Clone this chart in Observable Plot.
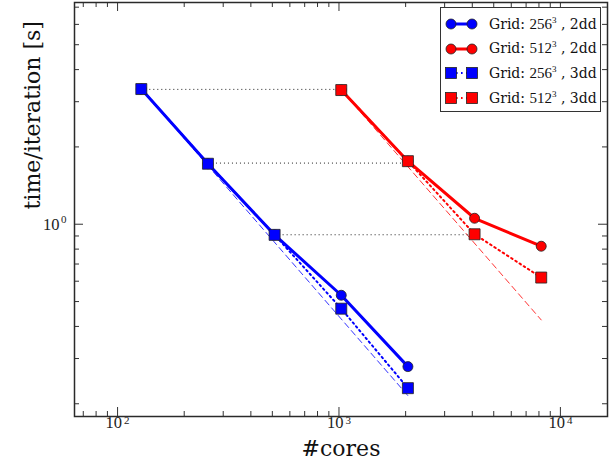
<!DOCTYPE html>
<html><head><meta charset="utf-8">
<script src="https://cdn.jsdelivr.net/npm/d3@7"></script>
<script src="https://cdn.jsdelivr.net/npm/@observablehq/plot@0.6"></script>
<style>
body{margin:0;background:#fff;}
#wrap{position:relative;width:616px;height:469px;font-family:"DejaVu Serif",serif;}
#legend{position:absolute;left:440px;top:7px;width:161px;height:105px;border:1.5px solid #333;background:#fff;box-sizing:border-box;}
.item{position:absolute;left:4px;height:20px;display:flex;align-items:center;font-size:14px;color:#111;white-space:nowrap;}
.item svg{margin-right:10px;}
.num{font-family:"Liberation Serif",serif;font-size:15px;}
sup{font-family:"Liberation Serif",serif;font-size:9px;vertical-align:6px;line-height:0;}
</style></head><body><div id="wrap"></div>
<script>
// ---- data ----
const cores256 = [128, 256, 512, 1024, 2048];
const time256_2dd = [3.36, 1.72, 0.909, 0.529, 0.279];
const time256_3dd = [3.36, 1.72, 0.909, 0.469, 0.230];
const cores512 = [1024, 2048, 4096, 8192];
const time512_2dd = [3.33, 1.76, 1.055, 0.821];
const time512_3dd = [3.33, 1.76, 0.914, 0.620];
const idealCores256 = [128, 2048];
const idealTime256 = [3.36, 0.215];
const idealCores512 = [1024, 8192];
const idealTime512 = [3.33, 0.424];
const refFrom = [128, 256, 512];
const refTo = [1024, 2048, 4096];
const refTime = [3.35, 1.73, 0.91];
const xMajor = [100, 1000, 10000];
const xExponents = ["2", "3", "4"];
const xMinor = [70, 80, 90, 200, 300, 400, 500, 600, 700, 800, 900, 2000, 3000, 4000, 5000, 6000, 7000, 8000, 9000];
const yMajor = [1];
const yExponents = ["0"];
const yMinor = [0.2, 0.3, 0.4, 0.5, 0.6, 0.7, 0.8, 0.9, 2, 3, 4, 5, 6, 7];
const seriesNames = ["256", "512", "256", "512"];
const seriesKinds = ["2dd", "2dd", "3dd", "3dd"];
const seriesColors = ["#0000ff", "#ff0000", "#0000ff", "#ff0000"];
const xLabel = "#cores";
const yLabel = "time/iteration [s]";

// ---- build ----
const W = 616, H = 469, mL = 74, mR = 9, mT = 2, mB = 53;
const pw = W - mL - mR, ph = H - mT - mB;
const rows = (xs, ys) => xs.map((x, i) => ({x, y: ys[i]}));
const refs = refFrom.map((f, i) => ({from: f, to: refTo[i], t: refTime[i]}));
const tickStroke = "#333";
const tickFont = '"Liberation Serif", serif';

const s256_2 = rows(cores256, time256_2dd), s512_2 = rows(cores512, time512_2dd);
const s256_3 = rows(cores256, time256_3dd), s512_3 = rows(cores512, time512_3dd);

const chart = Plot.plot({
  width: W, height: H, marginLeft: mL, marginRight: mR, marginTop: mT, marginBottom: mB,
  style: {fontFamily: '"DejaVu Serif", serif', fontSize: "13px", background: "white", color: "#222", overflow: "visible"},
  x: {type: "log", domain: [63.9, 16320], axis: null},
  y: {type: "log", domain: [0.1784, 7.3], axis: null},
  marks: [
    // inward ticks on all four sides
    Plot.tickX(xMinor, {x: d => d, insetTop: ph - 5, stroke: tickStroke}),
    Plot.tickX(xMajor, {x: d => d, insetTop: ph - 9, stroke: tickStroke}),
    Plot.tickX(xMinor, {x: d => d, insetBottom: ph - 5, stroke: tickStroke}),
    Plot.tickX(xMajor, {x: d => d, insetBottom: ph - 9, stroke: tickStroke}),
    Plot.tickY(yMinor, {y: d => d, insetRight: pw - 5, stroke: tickStroke}),
    Plot.tickY(yMajor, {y: d => d, insetRight: pw - 9, stroke: tickStroke}),
    Plot.tickY(yMinor, {y: d => d, insetLeft: pw - 5, stroke: tickStroke}),
    Plot.tickY(yMajor, {y: d => d, insetLeft: pw - 9, stroke: tickStroke}),
    // tick labels 10^n (base + raised exponent)
    Plot.text(xMajor, {x: d => d, frameAnchor: "bottom", text: () => "10", textAnchor: "end", dx: 4.5, dy: 11.5, fontSize: 16.5, fontFamily: tickFont, fill: "#222"}),
    Plot.text(xMajor, {x: d => d, frameAnchor: "bottom", text: (d, i) => xExponents[i], textAnchor: "start", dx: 6.5, dy: 7.5, fontSize: 11, fontFamily: tickFont, fill: "#222"}),
    Plot.text(yMajor, {y: d => d, frameAnchor: "left", text: () => "10", textAnchor: "end", dx: -15, dy: 0.5, fontSize: 16.5, fontFamily: tickFont, fill: "#222"}),
    Plot.text(yMajor, {y: d => d, frameAnchor: "left", text: (d, i) => yExponents[i], textAnchor: "start", dx: -13.5, dy: -5, fontSize: 11, fontFamily: tickFont, fill: "#222"}),
    Plot.frame({stroke: "#2a2a2a", strokeWidth: 1.5}),
    Plot.text([xLabel], {text: d => d, frameAnchor: "bottom", dy: 39, fontSize: 22, fill: "#111"}),
    Plot.text([yLabel], {text: d => d, frameAnchor: "left", dx: -42, rotate: -90, fontSize: 22, fill: "#111"}),
    // ideal scaling (dashed) and reference levels (dotted)
    Plot.line(rows(idealCores256, idealTime256), {x: "x", y: "y", stroke: "#3333ff", strokeWidth: 1, strokeDasharray: "6,4"}),
    Plot.line(rows(idealCores512, idealTime512), {x: "x", y: "y", stroke: "#ff3333", strokeWidth: 1, strokeDasharray: "6,4"}),
    Plot.link(refs, {x1: "from", x2: "to", y1: "t", y2: "t", stroke: "#222", strokeWidth: 1, strokeDasharray: "1,3"}),
    // 2dd series
    Plot.line(s256_2, {x: "x", y: "y", stroke: seriesColors[0], strokeWidth: 3}),
    Plot.dot(s256_2, {x: "x", y: "y", r: 5, fill: seriesColors[0], stroke: "#222", strokeWidth: 0.8}),
    Plot.line(s512_2, {x: "x", y: "y", stroke: seriesColors[1], strokeWidth: 3}),
    Plot.dot(s512_2, {x: "x", y: "y", r: 5, fill: seriesColors[1], stroke: "#222", strokeWidth: 0.8}),
    // 3dd series
    Plot.line(s256_3, {x: "x", y: "y", stroke: seriesColors[2], strokeWidth: 2, strokeDasharray: "1.6,3.4"}),
    Plot.dot(s256_3, {x: "x", y: "y", r: 6.2, symbol: "square", fill: seriesColors[2], stroke: "#222", strokeWidth: 0.8}),
    Plot.line(s512_3, {x: "x", y: "y", stroke: seriesColors[3], strokeWidth: 2, strokeDasharray: "1.6,3.4"}),
    Plot.dot(s512_3, {x: "x", y: "y", r: 6.2, symbol: "square", fill: seriesColors[3], stroke: "#222", strokeWidth: 0.8})
  ]
});
const wrap = document.getElementById("wrap");
wrap.appendChild(chart);

// legend
const legend = document.createElement("div");
legend.id = "legend";
seriesNames.forEach((n, i) => {
  const item = document.createElement("div");
  item.className = "item";
  item.style.top = (6 + i * 24.7) + "px";
  const c = seriesColors[i];
  const isSq = seriesKinds[i] === "3dd";
  const m = isSq
    ? `<rect x="0.5" y="4.5" width="11" height="11" fill="${c}" stroke="#222" stroke-width="0.8"/><rect x="21.5" y="4.5" width="11" height="11" fill="${c}" stroke="#222" stroke-width="0.8"/>`
    : `<circle cx="6" cy="10" r="5" fill="${c}" stroke="#222" stroke-width="0.8"/><circle cx="27" cy="10" r="5" fill="${c}" stroke="#222" stroke-width="0.8"/>`;
  const l = isSq
    ? `<line x1="6" y1="10" x2="27" y2="10" stroke="${c}" stroke-width="2" stroke-dasharray="1.6,3.4"/>`
    : `<line x1="6" y1="10" x2="27" y2="10" stroke="${c}" stroke-width="3"/>`;
  item.innerHTML = `<svg width="34" height="20">${l}${m}</svg><span>Grid: <span class="num">${n}</span><sup>3</sup> , ${seriesKinds[i]}</span>`;
  legend.appendChild(item);
});
wrap.appendChild(legend);
</script></body></html>
